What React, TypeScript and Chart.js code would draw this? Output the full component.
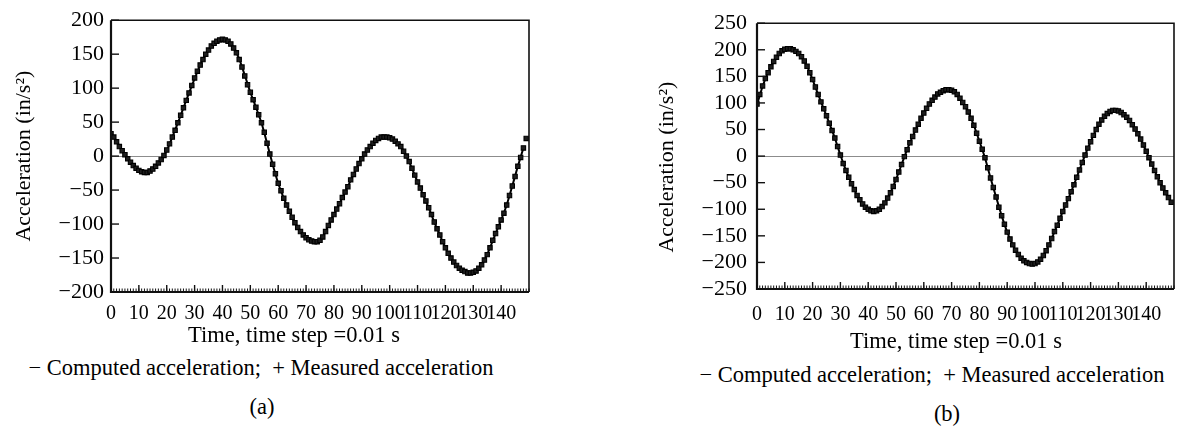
import React, { useEffect, useRef } from "react";
import { Chart, registerables } from "chart.js";

Chart.register(...registerables);

const SERIF = '"Liberation Serif", "Times New Roman", Times, serif';

// ---- data (time step index on x, acceleration in in/s^2 on y) ----
const MEASURED_STRIDE = 1; // one measured sample per time step
const COMPUTED_STRIDE = 2; // computed curve sampled every 2 time steps
const X_MAX = 150;
const X_TICKS = [0, 10, 20, 30, 40, 50, 60, 70, 80, 90, 100, 110, 120, 130, 140];
const Y_TICKS_A = [-200, -150, -100, -50, 0, 50, 100, 150, 200];
const Y_TICKS_B = [-250, -200, -150, -100, -50, 0, 50, 100, 150, 200, 250];

const MEASURED_A = [
  33, 28, 21, 14, 8, 2, -4, -9, -14, -18,
  -21, -23, -24, -24, -22, -19, -15, -10, -5, 1,
  9, 18, 28, 38, 49, 60, 71, 82, 93, 104,
  115, 125, 134, 142, 150, 156, 162, 166, 169, 171,
  172, 171, 169, 165, 159, 152, 142, 131, 118, 105,
  94, 83, 72, 61, 49, 35, 19, 3, -12, -26,
  -40, -51, -62, -72, -81, -90, -98, -105, -111, -116,
  -120, -123, -125, -126, -126, -124, -119, -111, -102, -94,
  -86, -78, -70, -61, -53, -45, -35, -27, -19, -11,
  -4, 3, 9, 14, 19, 23, 26, 28, 28, 28,
  27, 25, 22, 18, 14, 7, 0, -8, -18, -28,
  -38, -47, -57, -66, -76, -86, -97, -107, -116, -126,
  -135, -143, -150, -156, -161, -165, -168, -170, -172, -172,
  -171, -169, -165, -160, -153, -145, -135, -124, -114, -104,
  -94, -84, -72, -58, -44, -30, -15, -2, 12, 26,
];

const COMPUTED_A = [
  34, 22, 8, -4, -14, -21, -24, -22, -15, -5,
  8, 28, 49, 71, 93, 114, 134, 150, 161, 169,
  172, 169, 160, 143, 119, 94, 72, 49, 19, -12,
  -40, -62, -81, -98, -111, -120, -125, -125, -119, -102,
  -86, -70, -53, -36, -19, -4, 9, 19, 26, 28,
  27, 22, 14, 0, -18, -38, -57, -76, -97, -116,
  -135, -150, -161, -168, -172, -171, -165, -153, -135, -114,
  -94, -72, -44, -15, 12,
];

const MEASURED_B = [
  98, 116, 132, 146, 157, 168, 178, 186, 193, 198,
  201, 202, 202, 200, 197, 193, 187, 179, 169, 157,
  144, 130, 116, 102, 89, 76, 62, 48, 34, 18,
  2, -14, -27, -40, -52, -63, -74, -82, -90, -96,
  -100, -103, -104, -103, -100, -95, -88, -79, -69, -57,
  -44, -30, -16, -1, 12, 25, 37, 49, 60, 71,
  81, 90, 98, 105, 111, 117, 120, 123, 125, 125,
  124, 121, 116, 109, 101, 93, 83, 71, 58, 43,
  28, 13, -3, -22, -41, -59, -77, -96, -112, -128,
  -143, -156, -167, -177, -185, -192, -197, -200, -202, -203,
  -202, -199, -194, -187, -178, -167, -155, -142, -130, -117,
  -104, -92, -80, -67, -54, -40, -26, -12, 2, 15,
  27, 39, 50, 60, 68, 75, 80, 84, 86, 86,
  85, 82, 78, 73, 67, 59, 51, 42, 32, 21,
  9, -3, -15, -27, -39, -50, -60, -69, -78, -87,
];

const COMPUTED_B = [
  97, 131, 158, 178, 193, 201, 202, 197, 187, 169,
  144, 116, 89, 62, 34, 2, -27, -52, -74, -90,
  -100, -104, -100, -88, -69, -44, -16, 12, 37, 60,
  81, 98, 111, 120, 125, 124, 116, 101, 83, 58,
  28, -3, -41, -77, -112, -143, -167, -185, -197, -202,
  -202, -194, -178, -155, -130, -104, -80, -54, -26, 2,
  27, 50, 68, 80, 86, 85, 78, 67, 51, 32,
  9, -15, -39, -60, -78,
];

const Y_TITLE = "Acceleration (in/s\u00B2)";
const X_TITLE = "Time, time step =0.01 s";
const CAPTION = "\u2212 Computed acceleration;  + Measured acceleration";

type PanelSpec = {
  measured: number[];
  computed: number[];
  yTicks: number[];
  yTitle: string;
  yTitlePad: number;
  yTickPad: number;
  xTickPad: number;
  left: number;
  width: number;
  height: number;
  yAxisWidth: number;
  xAxisHeight: number;
  padTop: number;
  padRight: number;
};

const toPoints = (vals: number[], stride: number) =>
  vals.map((v, i) => ({ x: i * stride, y: v }));

const fmt = (v: number) => (v < 0 ? "\u2212" + Math.abs(v) : String(v));

const framePlugin = {
  id: "frameTicks",
  afterDraw(chart: any) {
    const { ctx, chartArea, scales } = chart;
    const { left, right, top, bottom } = chartArea;
    const xs = scales.x;
    const ys = scales.y;
    ctx.save();
    ctx.strokeStyle = "#111";
    ctx.lineWidth = 1.6;
    ctx.beginPath();
    ctx.moveTo(left, top);
    ctx.lineTo(right, top);
    ctx.lineTo(right, bottom);
    ctx.stroke();
    ctx.lineWidth = 2.2;
    ctx.beginPath();
    ctx.moveTo(left, top);
    ctx.lineTo(left, bottom);
    ctx.lineTo(right, bottom);
    ctx.stroke();
    ctx.lineWidth = 1.4;
    ys.ticks.forEach((t: any) => {
      const py = ys.getPixelForValue(t.value);
      ctx.beginPath();
      ctx.moveTo(left, py);
      ctx.lineTo(left + 8, py);
      ctx.stroke();
    });
    ctx.lineWidth = 1;
    for (let v = xs.min; v <= xs.max; v += 1) {
      const px = xs.getPixelForValue(v);
      ctx.beginPath();
      ctx.moveTo(px, bottom);
      ctx.lineTo(px, bottom - 3.5);
      ctx.stroke();
    }
    ctx.lineWidth = 1.4;
    xs.ticks.forEach((t: any) => {
      const px = xs.getPixelForValue(t.value);
      ctx.beginPath();
      ctx.moveTo(px, bottom);
      ctx.lineTo(px, bottom - 7);
      ctx.stroke();
    });
    ctx.restore();
  },
};

function Panel({ spec }: { spec: PanelSpec }) {
  const ref = useRef<HTMLCanvasElement | null>(null);
  useEffect(() => {
    if (!ref.current) return;
    const yMin = spec.yTicks[0];
    const yMax = spec.yTicks[spec.yTicks.length - 1];
    const chart = new Chart(ref.current, {
      type: "line",
      data: {
        datasets: [
          {
            label: "Computed acceleration",
            data: toPoints(spec.computed, COMPUTED_STRIDE),
            borderColor: "#000",
            borderWidth: 2,
            pointRadius: 0,
            tension: 0.2,
            fill: false,
            order: 2,
          },
          {
            label: "Measured acceleration",
            data: toPoints(spec.measured, MEASURED_STRIDE),
            showLine: false,
            pointStyle: "rect",
            pointRadius: 3.1,
            pointBackgroundColor: "#1e1e1e",
            pointBorderColor: "#000",
            pointBorderWidth: 1.1,
            order: 1,
          },
        ],
      } as any,
      options: {
        responsive: false,
        animation: false,
        layout: { padding: { top: spec.padTop, right: spec.padRight, left: 0, bottom: 0 } },
        plugins: { legend: { display: false }, tooltip: { enabled: false } },
        scales: {
          x: {
            type: "linear",
            min: 0,
            max: X_MAX,
            afterBuildTicks: (s: any) => {
              s.ticks = X_TICKS.map((v) => ({ value: v }));
            },
            afterFit: (s: any) => {
              s.height = spec.xAxisHeight;
            },
            grid: { display: false, drawTicks: false },
            border: { display: false },
            ticks: {
              autoSkip: false,
              maxRotation: 0,
              padding: spec.xTickPad,
              color: "#000",
              font: { family: SERIF, size: 20 },
            },
          },
          y: {
            type: "linear",
            min: yMin,
            max: yMax,
            afterBuildTicks: (s: any) => {
              s.ticks = spec.yTicks.map((v) => ({ value: v }));
            },
            afterFit: (s: any) => {
              s.width = spec.yAxisWidth;
            },
            grid: {
              drawTicks: false,
              lineWidth: 1,
              color: (c: any) => (c.tick && c.tick.value === 0 ? "#8c8c8c" : "rgba(0,0,0,0)"),
            },
            border: { display: false },
            ticks: {
              autoSkip: false,
              padding: spec.yTickPad,
              color: "#000",
              font: { family: SERIF, size: 22 },
              callback: (v: any) => fmt(Number(v)),
            },
            title: {
              display: true,
              text: spec.yTitle,
              color: "#000",
              font: { family: SERIF, size: 22 },
              padding: { top: spec.yTitlePad, bottom: 0 },
            },
          },
        },
      } as any,
      plugins: [framePlugin],
    });
    return () => chart.destroy();
  }, [spec]);
  return (
    <canvas
      ref={ref}
      width={spec.width}
      height={spec.height}
      style={{ position: "absolute", left: spec.left, top: 0, width: spec.width, height: spec.height }}
    />
  );
}

const PANEL_A: PanelSpec = {
  measured: MEASURED_A,
  computed: COMPUTED_A,
  yTicks: Y_TICKS_A,
  yTitle: Y_TITLE,
  yTitlePad: 11,
  yTickPad: 7,
  xTickPad: 10,
  left: 0,
  width: 560,
  height: 332,
  yAxisWidth: 111,
  xAxisHeight: 40,
  padTop: 14,
  padRight: 31,
};

const PANEL_B: PanelSpec = {
  measured: MEASURED_B,
  computed: COMPUTED_B,
  yTicks: Y_TICKS_B,
  yTitle: Y_TITLE + "\u00A0\u00A0\u00A0\u00A0",
  yTitlePad: 24,
  yTickPad: 10,
  xTickPad: 14,
  left: 630,
  width: 551,
  height: 330,
  yAxisWidth: 127,
  xAxisHeight: 41,
  padTop: 16,
  padRight: 7,
};

function Label({ x, y, text }: { x: number; y: number; text: string }) {
  return (
    <div
      style={{
        position: "absolute",
        left: x,
        top: y,
        transform: "translate(-50%, -50%)",
        fontFamily: SERIF,
        fontSize: 22.5,
        lineHeight: "23px",
        color: "#000",
        whiteSpace: "pre",
      }}
    >
      {text}
    </div>
  );
}

export default function App() {
  return (
    <div
      style={{
        position: "absolute",
        left: 0,
        top: 0,
        width: 1181,
        height: 443,
        overflow: "hidden",
        background: "#fff",
      }}
    >
      <Panel spec={PANEL_A} />
      <Panel spec={PANEL_B} />
      <Label x={294} y={334} text={X_TITLE} />
      <Label x={261} y={367} text={CAPTION} />
      <Label x={262} y={406} text="(a)" />
      <Label x={956} y={340} text={X_TITLE} />
      <Label x={932} y={374} text={CAPTION} />
      <Label x={947} y={413} text="(b)" />
    </div>
  );
}
